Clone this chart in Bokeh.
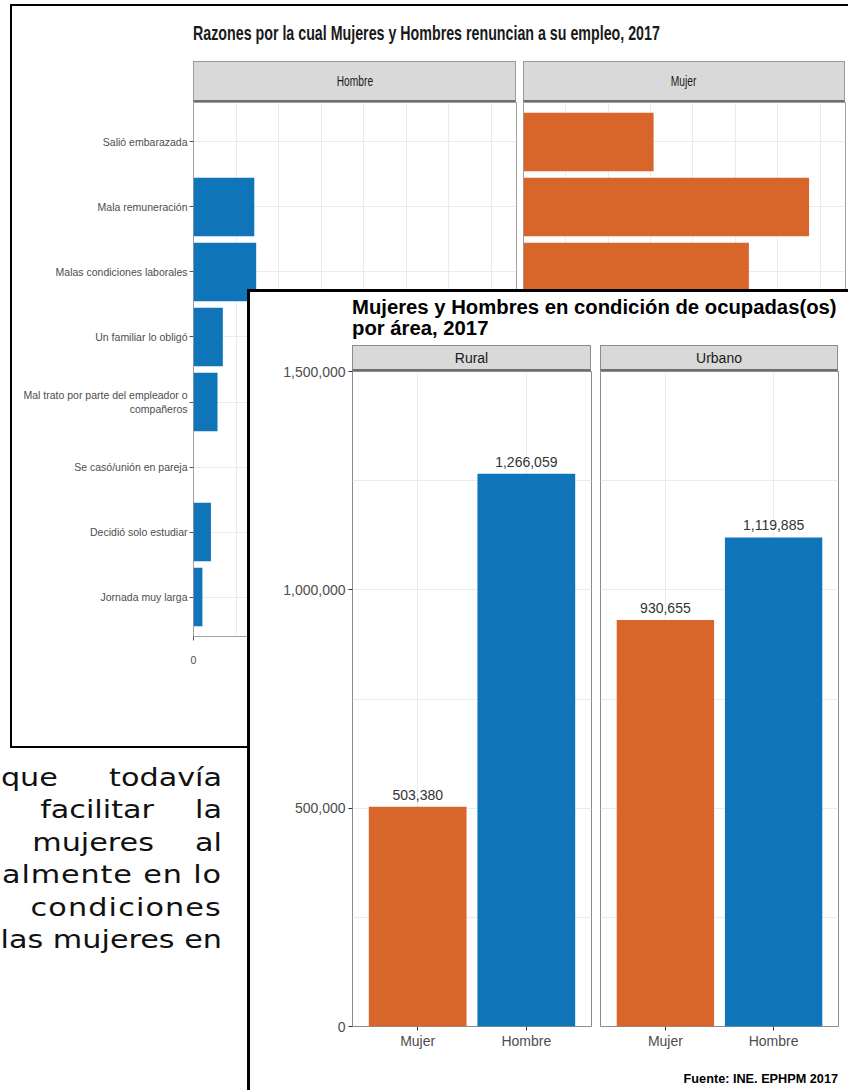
import textwrap
from bokeh.plotting import figure
from bokeh.layouts import column, row
from bokeh.models import Div, FactorRange, Range1d, FixedTicker, NumeralTickFormatter
from bokeh.core.properties import value
from bokeh.embed import file_html
from bokeh.resources import INLINE

# ---------------- data ----------------
reasons = ["Salió embarazada", "Mala remuneración", "Malas condiciones laborales",
           "Un familiar lo obligó", "Mal trato por parte del empleador o compañeros",
           "Se casó/unión en pareja", "Decidió solo estudiar", "Jornada muy larga"]
reasons_hombre = [0, 14300, 14750, 6900, 5650, 0, 4100, 2100]
reasons_mujer = [30700, 67400, 53200, 21000, 15500, 12000, 9500, 7000]
reason_panels = ["Hombre", "Mujer"]
reason_ticks = [0, 20000, 40000, 60000]
reason_minor = [10000, 30000, 50000, 70000]

areas = ["Rural", "Urbano"]
sexes = ["Mujer", "Hombre"]
ocup_rural = [503380, 1266059]
ocup_urbano = [930655, 1119885]
ocup_ticks = [0, 500000, 1000000, 1500000]
ocup_minor = [250000, 750000, 1250000]

paragraph = ["que todavía", "facilitar la", "mujeres al",
             "almente en lo", "condiciones", "las mujeres en"]
paragraph_word_gap = [33, 25, 25, 0, 0, 0]
paragraph_letter_gap = [0, 0, 0, 0.7, 0.9, 0]

ORANGE = "#D8662A"
BLUE = "#0F75B8"
SANS = "Liberation Sans"

reason_factors = [textwrap.fill(r, 36) for r in reasons]

# ---------------- back chart ----------------
BACK_H = 644


def back_panel(values, color, width, mb_left, mb_right, show_y):
    p = figure(width=width, height=BACK_H,
               y_range=FactorRange(factors=reason_factors[::-1], range_padding=0.107,
                                   range_padding_units="absolute"),
               x_range=Range1d(0, 76000), output_backend="svg", toolbar_location=None,
               min_border_left=mb_left, min_border_right=mb_right,
               min_border_top=0, min_border_bottom=110)
    p.background_fill_color = "white"
    p.border_fill_color = "white"
    p.outline_line_color = "#a0a0a0"
    p.hbar(y=reason_factors, left=0, right=values, height=0.9, fill_color=color,
           line_color=None)
    p.xaxis.ticker = FixedTicker(ticks=reason_ticks, minor_ticks=reason_minor)
    p.xgrid.grid_line_color = "#ebebeb"
    p.xgrid.minor_grid_line_color = "#ebebeb"
    p.ygrid.grid_line_color = "#ebebeb"
    for ax in (p.xaxis[0], p.yaxis[0]):
        ax.axis_line_color = None
        ax.major_tick_line_color = "#555555"
        ax.major_tick_out = 4
        ax.major_tick_in = 0
        ax.minor_tick_line_color = None
        ax.major_label_text_font = SANS
        ax.major_label_text_font_size = "10.5px"
        ax.major_label_text_color = "#4d4d4d"
    p.xaxis.major_label_standoff = 15
    p.yaxis.major_label_standoff = 2
    if not show_y:
        p.yaxis.visible = False
    return p


fig_h = back_panel(reasons_hombre, BLUE, 507, 181, 3, True)
fig_m = back_panel(reasons_mujer, ORANGE, 329, 4, 3, False)

back_title = Div(
    text=("<div style='padding:14px 0 0 181px;'>"
          "<div style=\"white-space:nowrap;font-family:'Liberation Sans',Arial,sans-serif;"
          "font-weight:bold;font-size:21px;line-height:25px;color:#1a1a1a;"
          "transform:scaleX(0.678);transform-origin:0 0;\">"
          "Razones por la cual Mujeres y Hombres renuncian a su empleo, 2017</div></div>"),
    width=836, height=55, margin=0, styles={"background": "white"})


def strip_html(names, lefts, widths, total_w, h, font_px, squeeze, border):
    boxes = "".join(
        f"<div style=\"position:absolute;left:{l}px;top:0;width:{w}px;height:{h}px;"
        f"box-sizing:border-box;background:#d9d9d9;border:1px solid {border};"
        f"border-bottom:2px solid #6e6e6e;display:flex;align-items:center;"
        f"justify-content:center;\"><span style=\"display:inline-block;"
        f"font-family:'Liberation Sans',Arial,sans-serif;font-size:{font_px}px;"
        f"color:#1a1a1a;transform:scaleX({squeeze});\">{n}</span></div>"
        for n, l, w in zip(names, lefts, widths))
    return f"<div style='position:relative;width:{total_w}px;height:{h}px;'>{boxes}</div>"


back_strip = Div(text=strip_html(reason_panels, [181, 511], [323, 322], 836, 41, 14, 0.73,
                                 "#9a9a9a"),
                 width=836, height=41, margin=0, styles={"background": "white"})

back_block = column(back_title, back_strip, row(fig_h, fig_m), margin=(4, 0, 0, 10),
                    styles={"border-left": "2px solid black", "border-top": "2px solid black",
                            "border-bottom": "2px solid black", "background": "white"})

# ---------------- front chart ----------------
F_H = 715
F_TOP = 26


def front_panel(values, width, mb_left, mb_right, show_y):
    p = figure(width=width, height=F_H,
               x_range=FactorRange(factors=sexes, range_padding=0.1,
                                   range_padding_units="absolute"),
               y_range=Range1d(0, 1500000), output_backend="svg", toolbar_location=None,
               min_border_left=mb_left, min_border_right=mb_right,
               min_border_top=F_TOP, min_border_bottom=34)
    p.background_fill_color = "white"
    p.border_fill_alpha = 0
    p.outline_line_color = "#8c8c8c"
    p.vbar(x=sexes, top=values, width=0.9, fill_color=[ORANGE, BLUE], line_color=None)
    p.text(x=sexes, y=values, text=[f"{v:,}" for v in values], text_align="center",
           text_baseline="bottom", y_offset=-7, text_font=value(SANS),
           text_font_size="14px", text_color="#333333")
    p.yaxis.ticker = FixedTicker(ticks=ocup_ticks, minor_ticks=ocup_minor)
    p.yaxis.formatter = NumeralTickFormatter(format="0,0")
    p.xgrid.grid_line_color = "#ebebeb"
    p.ygrid.grid_line_color = "#ebebeb"
    p.ygrid.minor_grid_line_color = "#ebebeb"
    for ax in (p.xaxis[0], p.yaxis[0]):
        ax.axis_line_color = None
        ax.major_tick_line_color = "#333333"
        ax.major_tick_out = 4
        ax.major_tick_in = 0
        ax.minor_tick_line_color = None
        ax.major_label_text_font = SANS
        ax.major_label_text_font_size = "14px"
        ax.major_label_text_color = "#4d4d4d"
        ax.major_label_standoff = 3
    p.xaxis.major_label_standoff = 2
    if not show_y:
        p.yaxis.visible = False
    return p


fig_r = front_panel(ocup_rural, 345, 102, 4, True)
fig_u = front_panel(ocup_urbano, 253, 5, 10, False)

front_title = Div(
    text=("<div style=\"white-space:nowrap;font-family:'Liberation Sans',Arial,sans-serif;"
          "font-weight:bold;font-size:20.3px;line-height:21px;color:#000;"
          "padding:5px 0 0 102px;\">Mujeres y Hombres en condición de ocupadas(os)"
          "<br>por área, 2017</div>"),
    width=598, height=53, margin=0, styles={"background": "white"})

front_strip = Div(text=strip_html(areas, [102, 350], [239, 238], 598, F_TOP, 14, 1.0,
                                  "#8c8c8c"),
                  width=598, height=F_TOP, margin=(0, 0, -F_TOP, 0),
                  styles={"background": "white"})

fuente = Div(
    text=("<div style=\"width:598px;box-sizing:border-box;text-align:right;"
          "white-space:nowrap;font-family:'Liberation Sans',Arial,sans-serif;"
          "font-weight:bold;font-size:12.7px;line-height:15px;color:#000;"
          "padding:12px 10px 0 0;\">Fuente: INE. EPHPM 2017</div>"),
    width=598, height=30, margin=0, styles={"background": "white"})

front_col = column(front_title, front_strip, row(fig_r, fig_u), fuente,
                   styles={"border-left": "3px solid black", "border-top": "3px solid black",
                           "background": "white", "position": "relative", "z-index": "5"})

lines_html = "".join(
    f"<div style='word-spacing:{ws}px;letter-spacing:{ls}px'>{t}</div>"
    for t, ws, ls in zip(paragraph, paragraph_word_gap, paragraph_letter_gap))
text_div = Div(
    text=("<div style='width:222px;'>"
          "<div style=\"width:222px;font-family:'DejaVu Sans',sans-serif;font-size:24px;"
          "line-height:32.4px;color:#111;text-align:right;white-space:nowrap;"
          "transform:scaleX(1.26);transform-origin:right top;\">" + lines_html +
          "</div></div>"),
    width=247, height=200, margin=(473, 0, 0, 0))

bottom_row = row(text_div, front_col, margin=(-459, 0, 0, 0))
root = column(back_block, bottom_row)

open("out.html", "w").write(file_html(root, INLINE))
